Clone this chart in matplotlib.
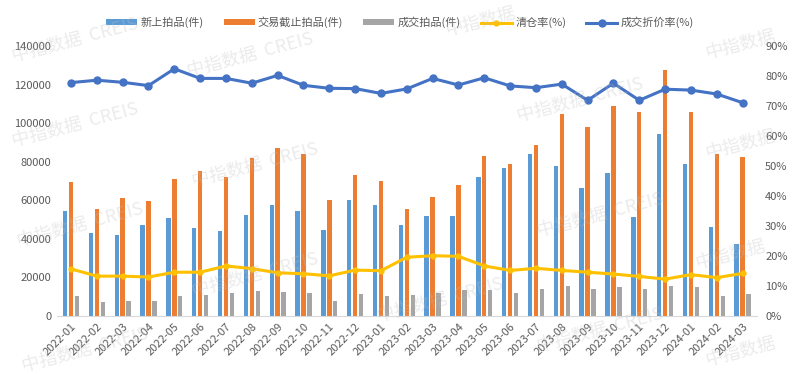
import matplotlib
matplotlib.use('Agg')
import matplotlib.pyplot as plt
import numpy as np

plt.rcParams['font.family'] = ['Noto Sans CJK SC', 'DejaVu Sans']

months = ['2022-01', '2022-02', '2022-03', '2022-04', '2022-05', '2022-06', '2022-07',
          '2022-08', '2022-09', '2022-10', '2022-11', '2022-12', '2023-01', '2023-02',
          '2023-03', '2023-04', '2023-05', '2023-06', '2023-07', '2023-08', '2023-09',
          '2023-10', '2023-11', '2023-12', '2024-01', '2024-02', '2024-03']
new_lots = [54500, 43000, 42000, 47200, 50800, 45600, 44000, 52400, 57500, 54500, 44600,
            60100, 57500, 47200, 52000, 52000, 72000, 76700, 84000, 77800, 66400, 74100,
            51300, 94400, 78800, 46100, 37300]
closed_lots = [69500, 55500, 61200, 59600, 71000, 75200, 72000, 82000, 87100, 84000, 60100,
               73100, 70000, 55500, 61700, 67900, 83000, 78800, 88700, 104700, 98000, 108900,
               105800, 127600, 105800, 84000, 82400]
sold_lots = [10500, 7400, 7900, 7600, 10400, 10900, 11800, 13000, 12400, 11800, 7900,
             11200, 10400, 10900, 12100, 13500, 13500, 11800, 13800, 15700, 14200, 15000,
             14200, 15700, 14900, 10400, 11400]
clear_rate = [15.7, 13.3, 13.3, 13.0, 14.6, 14.6, 16.7, 15.8, 14.4, 14.1, 13.4, 15.3, 15.1,
              19.6, 20.1, 19.9, 16.7, 15.2, 15.9, 15.2, 14.6, 14.0, 13.2, 12.3, 13.8, 12.8, 14.2]
discount_rate = [77.8, 78.6, 77.9, 76.8, 82.4, 79.2, 79.2, 77.6, 80.2, 76.9, 75.9, 75.8, 74.2,
                 75.7, 79.2, 77.0, 79.4, 76.7, 76.1, 77.3, 71.9, 77.6, 71.9, 75.6, 75.3, 74.0, 71.1]

tick_color = '#595959'

fig = plt.figure(figsize=(8, 3.74), dpi=100)
ax = fig.add_axes([0.071, 0.155, 0.875, 0.722])
ax2 = ax.twinx()

x = np.arange(len(months))
w = 0.17
ax.bar(x - 0.23, new_lots, w, color='#5B9BD5', label='新上拍品(件)')
ax.bar(x, closed_lots, w, color='#ED7D31', label='交易截止拍品(件)')
ax.bar(x + 0.23, sold_lots, w, color='#A5A5A5', label='成交拍品(件)')

ax2.plot(x, np.array(clear_rate) / 100, color='#FFC000', lw=2.2, marker='o', ms=3.5,
         label='清仓率(%)')
ax2.plot(x, np.array(discount_rate) / 100, color='#4472C4', lw=2.2, marker='o', ms=5,
         label='成交折价率(%)')

ax.set_xlim(-0.55, len(months) - 0.45)
ax.set_ylim(0, 140000)
ax.set_yticks(np.arange(0, 140001, 20000))
ax2.set_ylim(0, 0.9)
ax2.set_yticks(np.arange(0, 0.91, 0.1))
ax2.set_yticklabels([f'{int(round(v * 100))}%' for v in np.arange(0, 0.91, 0.1)])

ax.set_xticks(x)
ax.set_xticklabels(months, rotation=45, ha='right', rotation_mode='anchor')

for a in (ax, ax2):
    for s in a.spines.values():
        s.set_visible(False)
    a.tick_params(length=0, colors=tick_color, labelsize=8)
ax.spines['bottom'].set_visible(True)
ax.spines['bottom'].set_color('#D9D9D9')
ax.tick_params(axis='x', pad=4)
ax.tick_params(axis='y', pad=4)
ax2.tick_params(axis='y', pad=6)

h1, l1 = ax.get_legend_handles_labels()
h2, l2 = ax2.get_legend_handles_labels()
fig.legend(h1 + h2, l1 + l2, loc='center', bbox_to_anchor=(0.5, 0.94), ncol=5,
           frameon=False, fontsize=8, labelcolor=tick_color, handlelength=2.8,
           handleheight=0.5, columnspacing=1.8, handletextpad=0.3)

# watermarks
wm = [(75, 40, '中指数据  CREIS'), (250, 55, '中指数据  CREIS'), (480, 22, '中指数据'),
      (740, 45, '中指数据'), (75, 125, '中指数据  CREIS'), (580, 100, '中指数据  CREIS'),
      (255, 165, '中指数据  CREIS'), (740, 145, '中指数据'), (80, 225, '中指数据  CREIS'),
      (600, 215, '中指数据  CREIS'), (255, 275, '中指数据  CREIS'), (730, 255, '中指数据'),
      (440, 300, '中指数据  CREIS'), (85, 350, '中指数据  CREIS'), (600, 330, '中指数据  CREIS'),
      (740, 352, '中指数据')]
for px, py, t in wm:
    fig.text(px / 800, 1 - py / 374, t, fontsize=13, color='#BEBEBE', alpha=0.3,
             rotation=15, ha='center', va='center', zorder=10)

fig.savefig('out.png', dpi=100)
